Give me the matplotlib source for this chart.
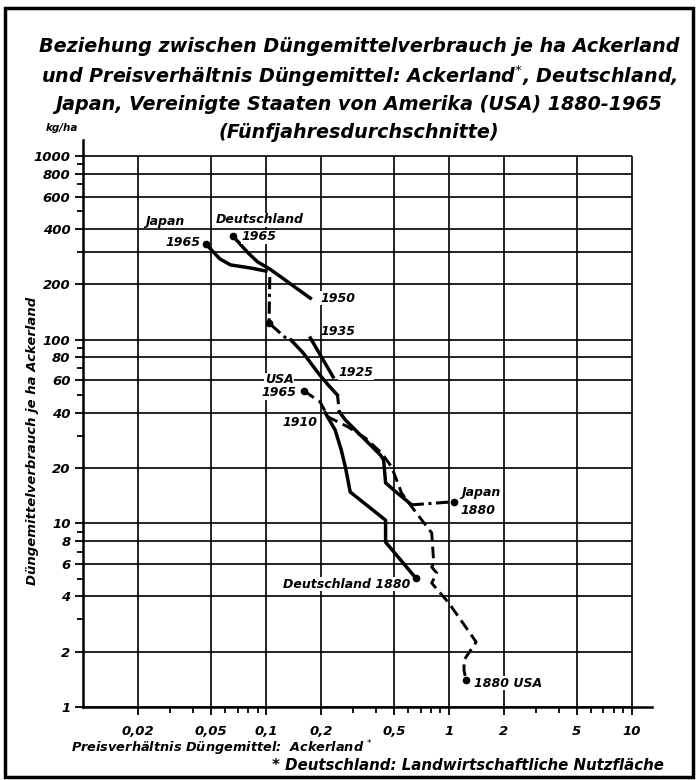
import matplotlib
matplotlib.use("Agg")
import matplotlib.pyplot as plt
from matplotlib.patches import Rectangle
from matplotlib.ticker import FixedLocator, NullFormatter

# --- data (price ratio, kg/ha) ---
# Deutschland
de_x_a = [0.066, 0.080, 0.090, 0.105, 0.121, 0.144, 0.175]      # 1965 -> 1950
de_y_a = [366, 296, 265, 242, 219, 193, 168]
de_x_b = [0.175, 0.233]                                          # 1935 -> 1925
de_y_b = [102, 62.6]
de_x_c = [0.211, 0.239, 0.258, 0.272, 0.289, 0.451, 0.451, 0.659]  # 1910 -> 1880
de_y_c = [39.9, 32.2, 25.1, 20.2, 14.8, 10.4, 7.9, 5.04]

# Japan
jp_x_a = [0.047, 0.056, 0.064, 0.083, 0.100]                    # 1965 -> ...
jp_y_a = [331, 275, 255, 245, 236]
jp_x_war = [0.105, 0.104, 0.127, 0.137]
jp_y_war = [219, 123, 103, 99.5]
jp_x_b = [0.137, 0.160, 0.193, 0.219, 0.246]
jp_y_b = [99.5, 84.5, 65.8, 56.6, 49.9]
jp_x_gap = [0.246, 0.252]
jp_y_gap = [49.9, 40.4]
jp_x_c = [0.252, 0.272, 0.320, 0.350, 0.423, 0.440, 0.451, 0.499, 0.626]
jp_y_c = [40.4, 36.5, 31.0, 28.4, 23.5, 22.1, 16.6, 15.2, 12.6]
jp_x_d = [0.626, 1.065]                                          # ... -> 1880
jp_y_d = [12.6, 13.1]

# USA 1965 -> 1880
us_x = [0.162, 0.198, 0.219, 0.282, 0.350, 0.429, 0.486, 0.552, 0.626,
        0.806, 0.827, 0.806, 0.859, 0.806, 1.00, 1.41, 1.21, 1.21, 1.24]
us_y = [52.5, 45.7, 37.9, 33.4, 29.1, 24.1, 20.3, 14.6, 12.3,
        8.86, 6.08, 5.78, 5.36, 4.73, 3.68, 2.26, 1.80, 1.59, 1.40]

end_x = [0.047, 0.066, 0.162, 1.065, 0.659, 1.24, 0.104]
end_y = [331, 366, 52.5, 13.1, 5.04, 1.40, 123]

x_major = [0.02, 0.05, 0.1, 0.2, 0.5, 1, 2, 5, 10]
x_labels = ["0,02", "0,05", "0,1", "0,2", "0,5", "1", "2", "5", "10"]
x_minor = [0.03, 0.04, 0.06, 0.07, 0.08, 0.09, 0.3, 0.4, 0.6, 0.7, 0.8, 0.9,
           3, 4, 6, 7, 8, 9]
y_major = [1, 2, 4, 6, 8, 10, 20, 40, 60, 80, 100, 200, 400, 600, 800, 1000]
y_minor = [3, 5, 7, 9, 30, 50, 70, 90, 300, 500, 700, 900]
h_grid = [1, 2, 4, 6, 8, 10, 20, 40, 60, 80, 100, 200, 300, 400, 600, 800, 1000]

bi = dict(family="DejaVu Sans", weight="bold", style="oblique")

fig = plt.figure(figsize=(6.97, 7.8), dpi=100)
ax = fig.add_axes([83 / 697, 73 / 780, 569 / 697, 567 / 780])
ax.set_xscale("log")
ax.set_yscale("log")
ax.set_xlim(0.01, 12.9)
ax.set_ylim(1, 1220)

ax.hlines(h_grid, 0.01, 10, color="k", lw=1.2, zorder=1)
ax.vlines(x_major, 1, 1000, color="k", lw=1.2, zorder=1)

for s in ["top", "right"]:
    ax.spines[s].set_visible(False)
for s in ["left", "bottom"]:
    ax.spines[s].set_linewidth(1.8)

ax.xaxis.set_major_locator(FixedLocator(x_major))
ax.xaxis.set_minor_locator(FixedLocator(x_minor))
ax.set_xticklabels(x_labels, fontsize=9.5, **bi)
ax.xaxis.set_minor_formatter(NullFormatter())
ax.yaxis.set_major_locator(FixedLocator(y_major))
ax.yaxis.set_minor_locator(FixedLocator(y_minor))
ax.set_yticklabels([str(v) for v in y_major], fontsize=9.5, **bi)
ax.yaxis.set_minor_formatter(NullFormatter())
ax.tick_params(which="major", direction="out", length=6, width=1.3, pad=3)
ax.tick_params(which="minor", direction="out", length=4, width=1.3)
ax.tick_params(axis="x", which="major", pad=7)

lw = 2.5
ax.plot(de_x_a, de_y_a, "k-", lw=lw, zorder=3)
ax.plot(de_x_b, de_y_b, "k-", lw=lw, zorder=3)
ax.plot(de_x_c, de_y_c, "k-", lw=lw, zorder=3)
ax.plot(jp_x_a, jp_y_a, "k-", lw=lw, zorder=3)
ax.plot(jp_x_war, jp_y_war, "k", lw=2.2, dashes=(4, 1.5, 1, 1.5), zorder=3)
ax.plot(jp_x_b, jp_y_b, "k-", lw=lw, zorder=3)
ax.plot(jp_x_gap, jp_y_gap, "k", lw=2.2, dashes=(3, 2), zorder=3)
ax.plot(jp_x_c, jp_y_c, "k-", lw=lw, zorder=3)
ax.plot(jp_x_d, jp_y_d, "k", lw=2.2, dashes=(4, 1.5, 1, 1.5), zorder=3)
ax.plot(us_x, us_y, "k", lw=2.1, dashes=(4, 2), zorder=3)
ax.plot(end_x, end_y, "ko", ms=4.5, zorder=4)

lab = dict(fontsize=9, color="k", zorder=5, **bi)
wb = dict(facecolor="white", edgecolor="none", pad=0.5)
ax.text(0.0279, 437, "Japan", ha="center", va="center", **lab)
ax.text(0.0354, 336, "1965", ha="center", va="center", bbox=wb, **lab)
ax.text(0.0927, 448, "Deutschland", ha="center", va="center", bbox=wb, **lab)
ax.text(0.0915, 362, "1965", ha="center", va="center", bbox=wb, **lab)
ax.text(0.199, 168, "1950", ha="left", va="center", bbox=wb, **lab)
ax.text(0.199, 110, "1935", ha="left", va="center", **lab)
ax.text(0.249, 65.8, "1925", ha="left", va="center", bbox=wb, **lab)
ax.text(0.118, 60.3, "USA", ha="center", va="center", bbox=wb, **lab)
ax.text(0.118, 51.2, "1965", ha="center", va="center", bbox=wb, **lab)
ax.text(0.1538, 35.2, "1910", ha="center", va="center", bbox=wb, **lab)
ax.text(1.17, 14.8, "Japan", ha="left", va="center", bbox=wb, **lab)
ax.text(1.16, 11.8, "1880", ha="left", va="center", bbox=wb, **lab)
ax.text(0.618, 4.67, "Deutschland 1880", ha="right", va="center", bbox=wb, **lab)
ax.text(1.37, 1.35, "1880 USA", ha="left", va="center", bbox=wb, **lab)

# titles and labels
title_lines = [
    "Beziehung zwischen Düngemittelverbrauch je ha Ackerland",
    "und Preisverhältnis Düngemittel: Ackerland$^{*}$, Deutschland,",
    "Japan, Vereinigte Staaten von Amerika (USA) 1880-1965",
    "(Fünfjahresdurchschnitte)",
]
title_y = [46, 76, 105, 133]
for t, yp in zip(title_lines, title_y):
    fig.text(359 / 697, 1 - yp / 780, t, ha="center", va="center",
             fontsize=13.8, **bi)

fig.text(62 / 697, 1 - 128 / 780, "kg/ha", ha="center", va="center",
         fontsize=7.5, **bi)
fig.text(33 / 697, 1 - 441 / 780, "Düngemittelverbrauch je ha Ackerland",
         rotation=90, ha="center", va="center", fontsize=9.5, **bi)
fig.text(71 / 697, 1 - 748 / 780, "Preisverhältnis Düngemittel:  Ackerland $^{*}$",
         ha="left", va="center", fontsize=9.3, **bi)
fig.text(272 / 697, 1 - 766 / 780, "* Deutschland: Landwirtschaftliche Nutzfläche",
         ha="left", va="center", fontsize=10.8, **bi)

fig.patches.append(Rectangle((5 / 697, 3 / 780), 688 / 697, 769 / 780,
                             transform=fig.transFigure, fill=False,
                             edgecolor="k", lw=2.5))

fig.savefig("out.png", dpi=100, facecolor="white")
